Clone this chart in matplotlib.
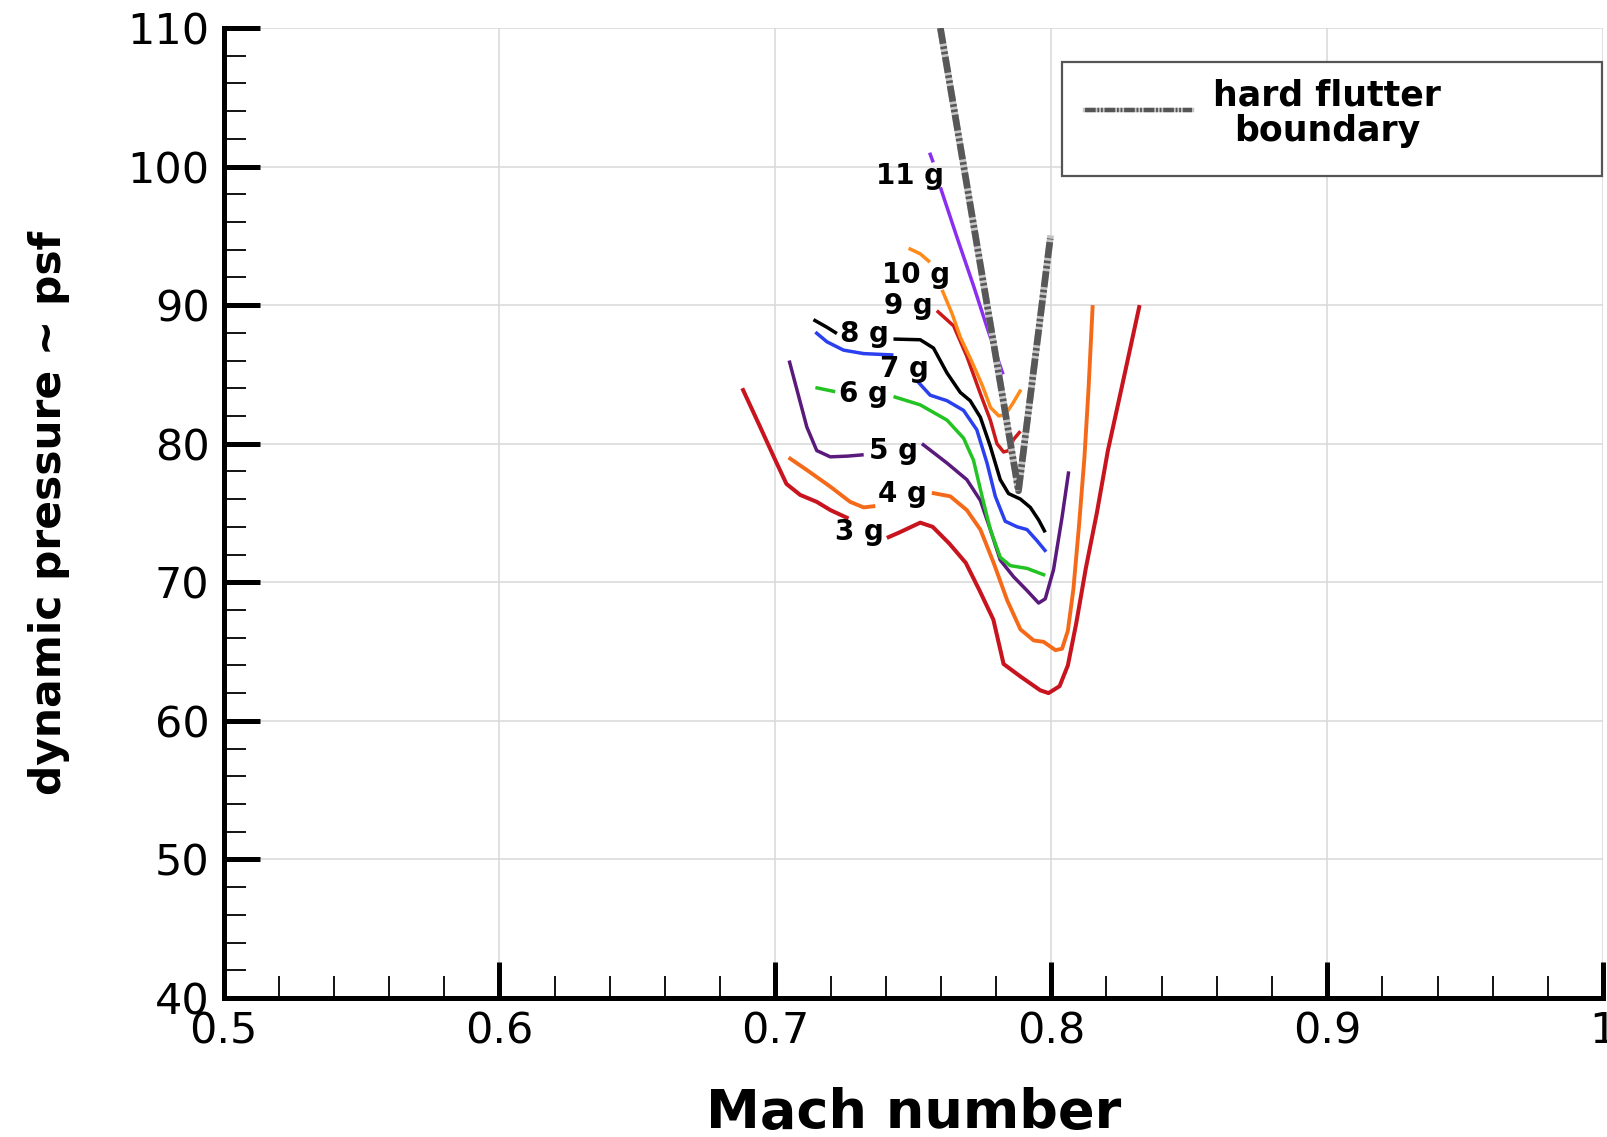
import numpy as np
import matplotlib.pyplot as plt
from matplotlib.lines import Line2D
from matplotlib.patches import Rectangle

nan = np.nan

# g-load curves (Mach number vs dynamic pressure, psf); nan = gap left for the label
mach_3g = [0.688, 0.6945, 0.700, 0.704, 0.709, 0.715, 0.720, 0.7265, nan,
           0.7404, 0.745, 0.7525, 0.757, 0.763, 0.769, 0.774, 0.779, 0.7827,
           0.7888, 0.796, 0.799, 0.803, 0.806, 0.809, 0.8125, 0.8165, 0.8205,
           0.826, 0.832]
q_3g = [84.0, 81.2, 78.8, 77.1, 76.3, 75.8, 75.2, 74.6, nan,
        73.2, 73.6, 74.3, 74.0, 72.8, 71.4, 69.4, 67.3, 64.1,
        63.2, 62.2, 62.0, 62.5, 64.0, 67.0, 71.0, 75.0, 79.5,
        84.5, 90.0]

mach_4g = [0.7048, 0.7114, 0.7199, 0.7271, 0.732, 0.7362, nan,
           0.7567, 0.7634, 0.7694, 0.7743, 0.7791, 0.784, 0.7888, 0.7936,
           0.7972, 0.8015, 0.8039, 0.806, 0.808, 0.810, 0.812, 0.8135, 0.815]
q_4g = [79.0, 78.1, 76.9, 75.8, 75.4, 75.5, nan,
        76.45, 76.2, 75.2, 73.8, 71.4, 68.7, 66.6, 65.8,
        65.7, 65.1, 65.2, 66.5, 69.5, 74.0, 79.0, 84.0, 90.0]

mach_5g = [0.705, 0.7078, 0.7114, 0.715, 0.7199, 0.726, 0.732, nan,
           0.7531, 0.7622, 0.7694, 0.7743, 0.7779, 0.7815, 0.7863, 0.7912,
           0.7954, 0.7978, 0.8008, 0.8039, 0.8063]
q_5g = [86.0, 83.9, 81.2, 79.5, 79.05, 79.1, 79.2, nan,
        80.0, 78.6, 77.4, 75.9, 73.8, 71.6, 70.4, 69.4,
        68.5, 68.8, 70.9, 74.7, 78.0]

mach_6g = [0.7145, 0.7217, nan, 0.7428, 0.7525, 0.7622, 0.7682, 0.7718,
           0.7749, 0.7779, 0.7815, 0.7851, 0.7912, 0.7978]
q_6g = [84.05, 83.75, nan, 83.4, 82.8, 81.7, 80.4, 78.8,
        76.2, 73.8, 71.8, 71.2, 71.0, 70.5]

mach_7g = [0.7145, 0.7187, 0.7247, 0.732, 0.7428, nan, 0.7515, 0.7561,
           0.7622, 0.7682, 0.773, 0.7767, 0.7797, 0.7833, 0.7876, 0.7912,
           0.7948, 0.7981]
q_7g = [88.05, 87.35, 86.75, 86.5, 86.4, nan, 84.5, 83.5,
        83.1, 82.4, 81.0, 78.6, 76.2, 74.4, 74.0, 73.8,
        73.0, 72.2]

mach_8g = [0.7138, 0.7187, 0.7223, nan, 0.7428, 0.7525, 0.7573, 0.7622,
           0.767, 0.7706, 0.7743, 0.7779, 0.7815, 0.7845, 0.7888, 0.7924,
           0.7954, 0.7978]
q_8g = [88.95, 88.4, 87.95, nan, 87.55, 87.5, 86.9, 85.1,
        83.7, 83.1, 81.9, 79.8, 77.4, 76.4, 76.0, 75.4,
        74.5, 73.6]

mach_9g = [0.7585, 0.7646, 0.7694, 0.7743, 0.7779, 0.7803, 0.7827, 0.7845,
           0.7863, 0.7888]
q_9g = [89.6, 88.5, 86.3, 83.6, 81.7, 80.0, 79.4, 79.5, 80.3, 80.9]

mach_10g = [0.7483, 0.7525, 0.756, nan, 0.7604, 0.764, 0.767, 0.771, 0.775,
            0.778, 0.781, 0.7833, 0.7857, 0.789]
q_10g = [94.1, 93.7, 93.1, nan, 91.1, 89.4, 87.7, 86.0, 84.2,
         82.6, 82.0, 82.1, 82.8, 83.9]

mach_11g = [0.7559, 0.7572, nan, 0.7598, 0.7658, 0.7718, 0.7767, 0.7825]
q_11g = [101.0, 100.3, nan, 98.5, 94.9, 91.4, 88.4, 85.0]

# hard flutter boundary
boundary_mach = [0.7598, 0.7881, 0.7996]
boundary_q = [110.0, 76.6, 94.8]

# curve labels
g_labels = ["3 g", "4 g", "5 g", "6 g", "7 g", "8 g", "9 g", "10 g", "11 g"]
label_mach = [0.7305, 0.7461, 0.7428, 0.732, 0.7468, 0.7323, 0.7483, 0.751, 0.7487]
label_q = [73.6, 76.4, 79.45, 83.6, 85.4, 87.9, 89.95, 92.2, 99.3]

x_ticks = [0.5, 0.6, 0.7, 0.8, 0.9, 1.0]
x_tick_labels = ["0.5", "0.6", "0.7", "0.8", "0.9", "1"]
y_ticks = [40, 50, 60, 70, 80, 90, 100, 110]

plt.rcParams['font.family'] = ['DejaVu Sans']

fig = plt.figure(figsize=(16.08, 11.37), dpi=100)
ax = fig.add_axes([0.139, 0.1223, 0.858, 0.8531])

curves = [
    (mach_3g, q_3g, "#c8141e", 2.9),
    (mach_4g, q_4g, "#f56a18", 2.8),
    (mach_5g, q_5g, "#5a1a7c", 2.5),
    (mach_6g, q_6g, "#22c322", 2.5),
    (mach_7g, q_7g, "#2a40ee", 2.5),
    (mach_8g, q_8g, "#000000", 2.5),
    (mach_9g, q_9g, "#cc1a1a", 2.5),
    (mach_10g, q_10g, "#ff8a1a", 2.5),
    (mach_11g, q_11g, "#8a2ef0", 2.5),
]
for m, q, c, lw in curves:
    ax.plot(m, q, color=c, lw=lw, solid_capstyle="butt",
            solid_joinstyle="round", zorder=3)

# flutter boundary: light underlay + dash-dot-dot
bstyle = (0, (2.4, 0.4, 0.4, 0.4, 0.4, 0.4))
ax.plot(boundary_mach, boundary_q, color="#c4c4c4", lw=4.8, zorder=4)
ax.plot(boundary_mach, boundary_q, color="#585858", lw=4.8,
        linestyle=bstyle, dash_capstyle="butt", zorder=5)

for txt, m, q in zip(g_labels, label_mach, label_q):
    ax.text(m, q, txt, fontsize=20, fontweight="bold", ha="center", va="center",
            zorder=6)

# legend box
ax.add_patch(Rectangle((0.6078, 0.8474), 0.3914, 0.1175, transform=ax.transAxes,
                       facecolor="white", edgecolor="#555555", lw=1.6, zorder=7,
                       clip_on=False))
ax.add_line(Line2D([0.6245, 0.7020], [0.9150, 0.9150], transform=ax.transAxes,
                   color="#c4c4c4", lw=3.2, zorder=8))
ax.add_line(Line2D([0.6245, 0.7020], [0.9150, 0.9150], transform=ax.transAxes,
                   color="#555555", lw=3.2, linestyle=bstyle,
                   dash_capstyle="butt", zorder=9))
ax.text(0.800, 0.9118, "hard flutter\nboundary", transform=ax.transAxes,
        fontsize=25, fontweight="bold", ha="center", va="center",
        multialignment="center", linespacing=1.05, zorder=9)

ax.set_xlim(0.5, 1.0)
ax.set_ylim(40, 110)
ax.set_xticks(x_ticks)
ax.set_xticklabels(x_tick_labels)
ax.set_yticks(y_ticks)
ax.set_xticks(np.arange(0.5, 1.0001, 0.02), minor=True)
ax.set_yticks(np.arange(40, 110.01, 2), minor=True)

ax.grid(True, which="major", color="#d9d9d9", lw=1.1, zorder=0)
ax.set_axisbelow(True)

ax.tick_params(which="major", direction="in", length=26, width=3.6,
               labelsize=31, pad=10)
ax.tick_params(axis="x", which="major", pad=9)
ax.tick_params(which="minor", direction="in", length=16, width=1.3)

for s in ["top", "right"]:
    ax.spines[s].set_visible(False)
for s in ["left", "bottom"]:
    ax.spines[s].set_linewidth(3.6)

ax.set_xlabel("Mach number", fontsize=39, fontweight="bold")
ax.xaxis.set_label_coords(0.5, -0.092)
ax.set_ylabel("dynamic pressure ~ psf", fontsize=30.5, fontweight="bold")
ax.yaxis.set_label_coords(-0.111, 0.5)

fig.savefig("out.png", dpi=100)
